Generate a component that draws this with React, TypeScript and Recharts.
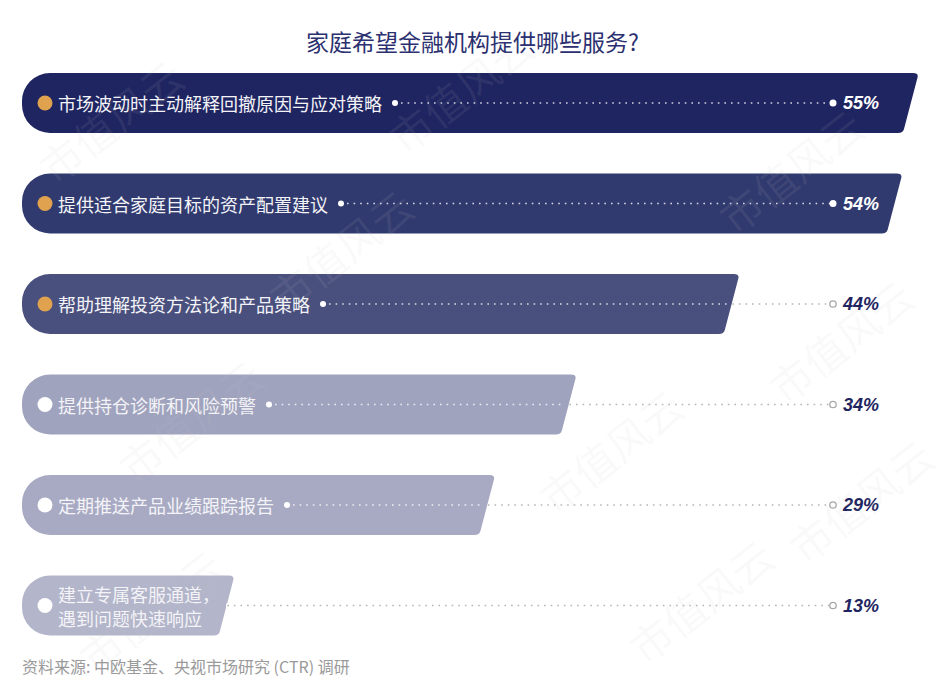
import React from 'react';
import { BarChart, Bar, XAxis, YAxis } from 'recharts';

const categories = [
  ['市场波动时主动解释回撤原因与应对策略'],
  ['提供适合家庭目标的资产配置建议'],
  ['帮助理解投资方法论和产品策略'],
  ['提供持仓诊断和风险预警'],
  ['定期推送产品业绩跟踪报告'],
  ['建立专属客服通道，', '遇到问题快速响应'],
];
const values = [55, 54, 44, 34, 29, 13];
const barColors = ['#1f2561', '#313a6f', '#4a507e', '#a0a3bd', '#a8aac3', '#b3b5ca'];
const markerColors = ['#e0a24e', '#e0a24e', '#e0a24e', '#ffffff', '#ffffff', '#ffffff'];

const data = categories.map((lines, i) => ({ name: lines.join(''), lines, value: values[i] }));

const NAVY = '#1f2561';
const LABEL_FS = 18;
const LINE_END = 833;
const PCT_X = 843;
const SLANT = 15;

const wmarks = [
  [110, 120], [460, 90], [790, 170], [840, 340], [190, 420],
  [610, 450], [860, 500], [150, 610], [700, 600], [340, 250],
];

const BarShape = (props: any) => {
  const { x, y, width, height, index } = props;
  const lines: string[] = categories[index];
  const R = x + width;
  const r = 28;
  const cy = y + height / 2;
  const path =
    `M ${x + r} ${y} L ${R - 5} ${y} Q ${R + 1} ${y} ${R - 0.6} ${y + 5} ` +
    `L ${R - SLANT + 1} ${y + height - 4} Q ${R - SLANT} ${y + height} ${R - SLANT - 5} ${y + height} ` +
    `L ${x + r} ${y + height} A ${r} ${r} 0 0 1 ${x} ${y + height - r} L ${x} ${y + r} A ${r} ${r} 0 0 1 ${x + r} ${y} Z`;

  const maxChars = Math.max(...lines.map((l) => l.length));
  const textEnd = x + 36 + maxChars * LABEL_FS - (lines.length > 1 ? 4 : 0);
  const lineStart = textEnd + 13;
  const barMid = R - SLANT / 2 - 3;
  const inside = barMid > PCT_X + 40;
  const whiteEnd = Math.min(barMid, LINE_END);

  return (
    <g>
      <path d={path} fill={barColors[index]} />
      <circle cx={x + 23} cy={cy} r={7.5} fill={markerColors[index]} />
      <text
        x={x + 36}
        y={lines.length > 1 ? cy - 12 : cy}
        fill="#f4f4f8"
        fontSize={LABEL_FS}
        fontFamily="'Noto Sans CJK SC', sans-serif"
        dominantBaseline="central"
      >
        {lines.map((l, k) => (
          <tspan key={k} x={x + 36} dy={k === 0 ? 0 : 24}>
            {l}
          </tspan>
        ))}
      </text>
      <circle cx={lineStart} cy={cy} r={3} fill="#ffffff" />
      <line
        x1={lineStart + 6}
        x2={whiteEnd}
        y1={cy}
        y2={cy}
        stroke="#ffffff"
        strokeOpacity={0.8}
        strokeWidth={1.6}
        strokeDasharray="1.6 5"
      />
      {!inside && (
        <line
          x1={whiteEnd + 4}
          x2={LINE_END - 4}
          y1={cy}
          y2={cy}
          stroke="#b5b5b5"
          strokeWidth={1.3}
          strokeDasharray="1.6 5"
        />
      )}
      {inside ? (
        <circle cx={LINE_END} cy={cy} r={3.5} fill="#ffffff" />
      ) : (
        <circle cx={LINE_END} cy={cy} r={3.2} fill="#ffffff" stroke="#a8a8a8" strokeWidth={1.3} />
      )}
      <text
        x={PCT_X}
        y={cy}
        fill={inside ? '#ffffff' : NAVY}
        fontSize={18}
        fontWeight="bold"
        fontStyle="italic"
        fontFamily="'Liberation Sans', Arial, sans-serif"
        dominantBaseline="central"
      >
        {values[index]}%
      </text>
    </g>
  );
};

export default function App() {
  return (
    <div style={{ position: 'absolute', left: 0, top: 0, width: 945, height: 688, background: '#fff', overflow: 'hidden' }}>
      <div
        style={{
          position: 'absolute',
          top: 24,
          width: 945,
          textAlign: 'center',
          fontSize: 23,
          color: '#2b3070',
          fontFamily: "'Noto Sans CJK SC', sans-serif",
        }}
      >
        家庭希望金融机构提供哪些服务?
      </div>
      <BarChart
        width={945}
        height={688}
        data={data}
        layout="vertical"
        margin={{ top: 53, right: 27, bottom: 32, left: 22 }}
      >
        <XAxis type="number" dataKey="value" domain={[0, 55]} hide />
        <YAxis type="category" dataKey="name" hide />
        <Bar dataKey="value" barSize={60} shape={<BarShape />} isAnimationActive={false} />
      </BarChart>
      <div
        style={{
          position: 'absolute',
          left: 22,
          top: 654,
          fontSize: 16,
          color: '#9a9a9a',
          fontFamily: "'Noto Sans CJK SC', sans-serif",
        }}
      >
        资料来源: 中欧基金、央视市场研究 (CTR) 调研
      </div>
      <svg width={945} height={688} style={{ position: 'absolute', left: 0, top: 0, pointerEvents: 'none' }}>
        {wmarks.map(([cx, cy], i) => (
          <text
            key={i}
            x={cx}
            y={cy}
            textAnchor="middle"
            dominantBaseline="central"
            fontSize={42}
            fontFamily="'Noto Sans CJK SC', sans-serif"
            fill="#c8c8c8"
            fillOpacity={0.09}
            transform={`rotate(-38 ${cx} ${cy})`}
          >
            市值风云
          </text>
        ))}
      </svg>
    </div>
  );
}
